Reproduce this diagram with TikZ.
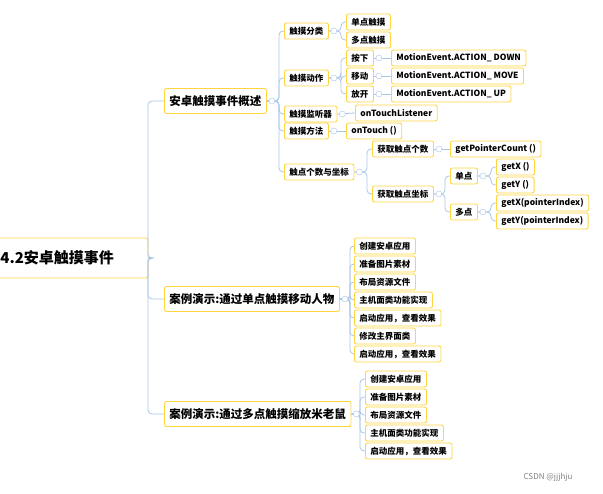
\documentclass[tikz,border=0pt]{standalone}
\usepackage{fontspec}
\setmainfont{Noto Sans CJK SC}
\usetikzlibrary{positioning}
\definecolor{boxline}{HTML}{FFD640}
\definecolor{linkline}{HTML}{A9C4E8}
\begin{document}
\begin{tikzpicture}[x=1pt,y=-1pt]
   \tikzstyle{box} = [draw=boxline,line width=.9pt,fill=white,rounded corners=2pt,anchor=west,
     inner xsep=5pt,inner ysep=0pt,minimum height=16pt,font=\fontsize{8.5}{9}\selectfont\bfseries]
   \tikzstyle{mid} = [box,minimum height=25pt,font=\fontsize{11.5}{12}\selectfont\bfseries]
   \tikzstyle{top} = [box,minimum height=40pt,minimum width=147pt,inner xsep=4pt,
     align=left,font=\fontsize{15}{16}\selectfont\bfseries]
   \tikzstyle{link} = [draw=linkline,line width=.8pt,rounded corners=4pt]
   \tikzstyle{knob} = [circle,draw=linkline,fill=white,inner sep=0pt,minimum size=6pt]
   \useasboundingbox (0,0) rectangle (603,494);
   %% nodes
   \node [top] (root) at (-4,258) {4.2安卓触摸事件\hspace{30pt}};
   \node [mid] (sum) at (164,101) {安卓触摸事件概述};
   \node [mid] (caseA) at (164,299) {案例演示:通过单点触摸移动人物};
   \node [mid] (caseB) at (164,414) {案例演示:通过多点触摸缩放米老鼠};
   %%
   \node [box] (kind) at (284,31) {触摸分类};
   \node [box] (act) at (284,78) {触摸动作};
   \node [box] (lis) at (284,114) {触摸监听器};
   \node [box] (meth) at (284,131) {触摸方法};
   \node [box] (pt) at (284,172) {触点个数与坐标};
   \node [box] (k1) at (346,22) {单点触摸};
   \node [box] (k2) at (346,40) {多点触摸};
   \node [box] (a1) at (346,58) {按下};
   \node [box] (a2) at (346,76) {移动};
   \node [box] (a3) at (346,94) {放开};
   \node [box] (m1) at (391,58) {MotionEvent.ACTION\_ DOWN};
   \node [box] (m2) at (391,76) {MotionEvent.ACTION\_ MOVE};
   \node [box] (m3) at (391,94) {MotionEvent.ACTION\_ UP};
   \node [box] (lis1) at (355,113) {onTouchListener};
   \node [box] (meth1) at (346,131) {onTouch ()};
   \node [box] (cnt) at (372,149) {获取触点个数};
   \node [box] (cnt1) at (450,149) {getPointerCount ()};
   \node [box] (crd) at (372,194) {获取触点坐标};
   \node [box] (one) at (450,176) {单点};
   \node [box] (many) at (450,212) {多点};
   \node [box] (gx) at (496,167) {getX ()};
   \node [box] (gy) at (496,185) {getY ()};
   \node [box] (gxi) at (496,203) {getX(pointerIndex)};
   \node [box] (gyi) at (496,221) {getY(pointerIndex)};
   %% edges
   \foreach \c in {sum,caseA,caseB} \path [link] (root.east) -- (148,258) |- (\c.west);
   \foreach \c in {kind,act,lis,meth,pt} \path [link] (sum.east) -- (279,101) |- (\c.west);
   \foreach \c in {k1,k2} \path [link] (kind.east) -- (341,31) |- (\c.west);
   \foreach \c in {a1,a2,a3} \path [link] (act.east) -- (341,78) |- (\c.west);
   \path [link] (a1.east) -- (m1.west); \path [link] (a2.east) -- (m2.west);
   \path [link] (a3.east) -- (m3.west);
   \path [link] (lis.east) -- (lis1.west); \path [link] (meth.east) -- (meth1.west);
   \foreach \c in {cnt,crd} \path [link] (pt.east) -- (367,172) |- (\c.west);
   \path [link] (cnt.east) -- (cnt1.west);
   \foreach \c in {one,many} \path [link] (crd.east) -- (445,194) |- (\c.west);
   \foreach \c in {gx,gy} \path [link] (one.east) -- (491,176) |- (\c.west);
   \foreach \c in {gxi,gyi} \path [link] (many.east) -- (491,212) |- (\c.west);
   %% case steps
   \foreach \t [count=\i] in {创建安卓应用,准备图片素材,布局资源文件,主机面类功能实现,
       启动应用，查看效果,修改主界面类,启动应用，查看效果} {
     \node [box] (sa\i) at (354,228+18*\i) {\t};
     \path [link] (caseA.east) -- (350,299) |- (sa\i.west);
   }
   \foreach \t [count=\i] in {创建安卓应用,准备图片素材,布局资源文件,主机面类功能实现,
       启动应用，查看效果} {
     \node [box] (sb\i) at (365,361+18*\i) {\t};
     \path [link] (caseB.east) -- (360,414) |- (sb\i.west);
   }
   %% knobs
   \foreach \p in {sum,kind,act,lis,meth,pt,a1,a2,a3,cnt,crd,one,many,caseA,caseB}
     \node [knob] at ([xshift=5pt]\p.east) {};
   \node [font=\fontsize{8}{9}\selectfont,text=gray] (mark) at (548,477) {CSDN @jjjhju};
\end{tikzpicture}
\end{document}
